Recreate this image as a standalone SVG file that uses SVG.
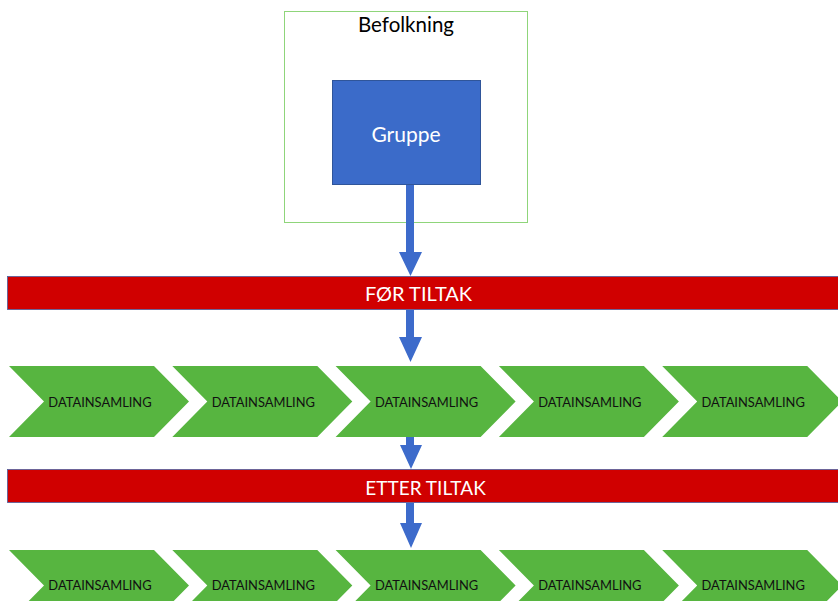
<svg xmlns="http://www.w3.org/2000/svg" width="838" height="601" viewBox="0 0 838 601">
<defs>
<style>
.chev{fill:#57B540;}
.ctext{font-family:Lato,"Open Sans",sans-serif;font-size:12.9px;fill:#111;text-anchor:middle;dominant-baseline:central;}
.bar{fill:#D00000;stroke:#4F5E9E;stroke-width:0.8;}
.btext{font-family:Lato,"Open Sans",sans-serif;font-size:19.5px;fill:#fff;text-anchor:middle;dominant-baseline:central;}
.arr{fill:#3D6BCB;}
</style>
<polygon id="chevShape" points="0,0 145,0 180,35.5 145,71 0,71 35,35.5"/>
</defs>
<rect width="838" height="601" fill="#fff"/>
<g id="befolkning">
<rect x="284.5" y="11.5" width="243" height="211" fill="none" stroke="#8FD57A" stroke-width="1"/>
<text x="406" y="24" style="font-family:Lato,'Open Sans',sans-serif;font-size:20.5px;fill:#000;text-anchor:middle;dominant-baseline:central;">Befolkning</text>
</g>
<g id="gruppe">
<rect x="332.5" y="80.5" width="148" height="104" fill="#3B6BC9" stroke="#2F559A" stroke-width="1"/>
<text x="406" y="133" class="btext" style="font-size:21px">Gruppe</text>
</g>
<g id="connectors">
<path class="arr" d="M406,185 H414 V252 H422 L410.5,276 L399,252 H406 Z"/>
<path class="arr" d="M406,310 H414 V337 H422 L410.5,362 L399,337 H406 Z"/>
<path class="arr" d="M406,437 H414 V445 H422 L411,469 L400,445 H406 Z"/>
<path class="arr" d="M406,503 H414 V523 H422 L411,548 L400,523 H406 Z"/>
</g>
<g id="for-tiltak">
<rect class="bar" x="7.5" y="276.5" width="840" height="33"/>
<text x="418.5" y="293" class="btext" style="font-size:20px">FØR TILTAK</text>
</g>
<g id="etter-tiltak">
<rect class="bar" x="7.5" y="469.5" width="840" height="33"/>
<text x="425.5" y="487" class="btext" style="font-size:19px">ETTER TILTAK</text>
</g>
<g id="row1">
<g id="r1c1"><use href="#chevShape" class="chev" x="9" y="366"/><text class="ctext" x="100" y="401.5">DATAINSAMLING</text></g>
<g id="r1c2"><use href="#chevShape" class="chev" x="172.3" y="366"/><text class="ctext" x="263.3" y="401.5">DATAINSAMLING</text></g>
<g id="r1c3"><use href="#chevShape" class="chev" x="335.6" y="366"/><text class="ctext" x="426.6" y="401.5">DATAINSAMLING</text></g>
<g id="r1c4"><use href="#chevShape" class="chev" x="498.9" y="366"/><text class="ctext" x="589.9" y="401.5">DATAINSAMLING</text></g>
<g id="r1c5"><use href="#chevShape" class="chev" x="662.2" y="366"/><text class="ctext" x="753.2" y="401.5">DATAINSAMLING</text></g>
</g>
<g id="row2">
<g id="r2c1"><use href="#chevShape" class="chev" x="9" y="550"/><text class="ctext" x="100" y="585">DATAINSAMLING</text></g>
<g id="r2c2"><use href="#chevShape" class="chev" x="172.3" y="550"/><text class="ctext" x="263.3" y="585">DATAINSAMLING</text></g>
<g id="r2c3"><use href="#chevShape" class="chev" x="335.6" y="550"/><text class="ctext" x="426.6" y="585">DATAINSAMLING</text></g>
<g id="r2c4"><use href="#chevShape" class="chev" x="498.9" y="550"/><text class="ctext" x="589.9" y="585">DATAINSAMLING</text></g>
<g id="r2c5"><use href="#chevShape" class="chev" x="662.2" y="550"/><text class="ctext" x="753.2" y="585">DATAINSAMLING</text></g>
</g>
</svg>
